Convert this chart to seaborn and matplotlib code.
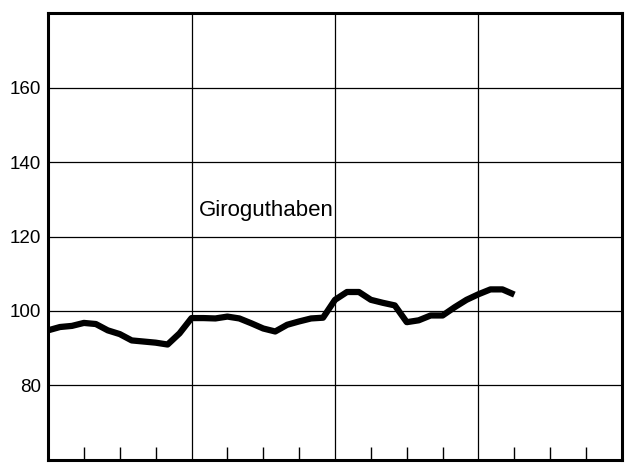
import matplotlib
matplotlib.use("Agg")
import matplotlib.pyplot as plt
import seaborn as sns
import pandas as pd

months = list(range(40))
giro = [94.8, 95.7, 96.0, 96.8, 96.5, 94.8, 93.8, 92.1, 91.8, 91.5, 91.0, 94.0,
        98.1, 98.1, 98.0, 98.5, 98.0, 96.7, 95.3, 94.5, 96.3, 97.2, 98.0, 98.2,
        103.0, 105.1, 105.1, 103.0, 102.2, 101.5, 97.0, 97.5, 98.8, 98.8, 101.0, 103.0,
        104.5, 105.8, 105.8, 104.4]
y_ticks = [80, 100, 120, 140, 160]
label = "Giroguthaben"

sns.set_style("white")
plt.rcParams['font.family'] = ['Liberation Sans', 'DejaVu Sans']

df = pd.DataFrame({"month": months, "value": giro})

fig = plt.figure(figsize=(6.26, 4.73), dpi=100)
ax = fig.add_axes([0.0767, 0.0275, 0.9169, 0.945])

sns.lineplot(data=df, x="month", y="value", ax=ax, color="black", linewidth=4.5,
             solid_joinstyle="round", solid_capstyle="butt")

ax.set_xlim(0, 48)
ax.set_ylim(60, 180)
ax.set_yticks(y_ticks)
ax.set_yticklabels([str(t) for t in y_ticks], fontsize=13.5)
for t in y_ticks:
    ax.axhline(t, color="black", linewidth=0.9, zorder=0)
for v in [12, 24, 36]:
    ax.axvline(v, color="black", linewidth=0.9, zorder=0)

ax.set_xticks([m for m in range(3, 48, 3) if m % 12 != 0])
ax.set_xticklabels([])
ax.tick_params(axis="x", direction="in", length=9.5, width=1.0, color="black", bottom=True)
ax.tick_params(axis="y", length=0, pad=5, colors="black")
ax.set_xlabel("")
ax.set_ylabel("")

for s in ax.spines.values():
    s.set_visible(True)
    s.set_color("black")
    s.set_linewidth(2.2)

ax.text(12.6, 125.5, label, fontsize=16, color="black", va="baseline", ha="left")

fig.savefig("out.png", dpi=100)
